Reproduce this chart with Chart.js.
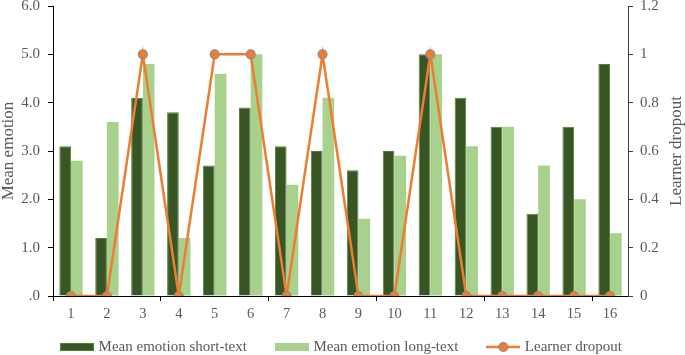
<!DOCTYPE html>
<html>
<head>
<meta charset="utf-8">
<script src="https://cdn.jsdelivr.net/npm/chart.js@4/dist/chart.umd.min.js"></script>
<style>
  html, body { margin: 0; padding: 0; background: #fff; }
  #wrap { width: 685px; height: 355px; }
</style>
</head>
<body>
<div id="wrap"><canvas id="chart"></canvas></div>
<script>
// learner groups 1..16
const categories = ['1','2','3','4','5','6','7','8','9','10','11','12','13','14','15','16'];
const shortText = [3.1, 1.2, 4.1, 3.8, 2.7, 3.9, 3.1, 3.0, 2.6, 3.0, 5.0, 4.1, 3.5, 1.7, 3.5, 4.8];
const longText  = [2.8, 3.6, 4.8, 1.2, 4.6, 5.0, 2.3, 4.1, 1.6, 2.9, 5.0, 3.1, 3.5, 2.7, 2.0, 1.3];
const dropout   = [0, 0, 1, 0, 1, 1, 0, 1, 0, 0, 1, 0, 0, 0, 0, 0];

const SERIF = "'Liberation Serif', 'Times New Roman', serif";
const GREY = '#595959';
const DARK = '#375623', DARK_EDGE = '#548235', LIGHT = '#a9d18e';
const ORANGE = '#ed7d31', DOT_EDGE = '#8c8c8c';

// legend swatches (Excel style: wide rectangles and a line with a marker)
function swatch(w, h, draw) {
  const c = document.createElement('canvas');
  c.width = w; c.height = h;
  draw(c.getContext('2d'));
  return c;
}
const swatches = [
  swatch(34, 8, g => { g.fillStyle = DARK; g.fillRect(0, 0, 34, 8); g.strokeStyle = DARK_EDGE; g.strokeRect(0.5, 0.5, 33, 7); }),
  swatch(34, 8, g => { g.fillStyle = LIGHT; g.fillRect(0, 0, 34, 8); }),
  swatch(34, 12, g => {
    g.strokeStyle = ORANGE; g.lineWidth = 2.5;
    g.beginPath(); g.moveTo(0, 6); g.lineTo(34, 6); g.stroke();
    g.beginPath(); g.arc(17, 6, 4.5, 0, Math.PI * 2);
    g.fillStyle = ORANGE; g.fill(); g.lineWidth = 1.2; g.strokeStyle = DOT_EDGE; g.stroke();
  })
];

// right axis title reads bottom-to-top, same as the left one
const rightTitle = {
  id: 'rightTitle',
  afterDraw(chart) {
    const a = chart.chartArea, s = chart.scales.y1, ctx = chart.ctx;
    ctx.save();
    ctx.translate(s.right - 8, (a.top + a.bottom) / 2);
    ctx.rotate(-Math.PI / 2);
    ctx.font = '17px ' + SERIF;
    ctx.fillStyle = GREY;
    ctx.textAlign = 'center';
    ctx.textBaseline = 'middle';
    ctx.fillText('Learner dropout', 0, 0);
    ctx.restore();
  }
};

// legend padding is wide (item spacing), so pull the row up closer to the axis labels
// (only the top moves: the legend clips its drawing to its own box)
const legendLift = {
  id: 'legendLift',
  afterLayout(chart) {
    chart.legend.top -= 15.5;
  }
};

new Chart(document.getElementById('chart'), {
  data: {
    labels: categories,
    datasets: [
      {type: 'bar', label: 'Mean emotion short-text', data: shortText, yAxisID: 'y',
       backgroundColor: DARK, borderColor: DARK_EDGE, borderWidth: 1,
       barPercentage: 1, categoryPercentage: 0.65, order: 1},
      {type: 'bar', label: 'Mean emotion long-text', data: longText, yAxisID: 'y',
       backgroundColor: LIGHT, borderWidth: 0,
       barPercentage: 1, categoryPercentage: 0.65, order: 1},
      {type: 'line', label: 'Learner dropout', data: dropout, yAxisID: 'y1',
       borderColor: ORANGE, borderWidth: 2.5, tension: 0,
       pointRadius: 4.5, pointBackgroundColor: ORANGE, pointBorderColor: DOT_EDGE, pointBorderWidth: 1.2,
       order: -1}
    ]
  },
  options: {
    responsive: true,
    maintainAspectRatio: false,
    animation: false,
    layout: {padding: {top: 6, left: 0, right: 0, bottom: 0}},
    scales: {
      x: {
        offset: true,
        grid: {
          offset: true, drawOnChartArea: false, drawTicks: true, tickLength: 5,
          color: c => (c.index % 3 === 0 ? '#000' : 'rgba(0,0,0,0)')
        },
        border: {display: true, color: '#000', width: 1},
        ticks: {font: {family: SERIF, size: 14.5}, color: GREY, padding: 4, maxRotation: 0},
        afterFit: s => { s.height = 28; s.paddingLeft = 0; s.paddingRight = 0; }
      },
      y: {
        position: 'left',
        min: 0, max: 6,
        grid: {drawOnChartArea: false, drawTicks: true, tickLength: 5, color: '#000'},
        border: {display: true, color: '#000', width: 1},
        ticks: {stepSize: 1, font: {family: SERIF, size: 15}, color: GREY, padding: 8,
                callback: v => (v === 0 ? '.0' : v.toFixed(1))},
        title: {display: true, text: 'Mean emotion', color: GREY,
                font: {family: SERIF, size: 17, lineHeight: 1}, padding: {top: 0, bottom: 0}},
        afterFit: s => { s.width = 53; s.paddingTop = 0; s.paddingBottom = 0; }
      },
      y1: {
        position: 'right',
        min: 0, max: 1.2,
        grid: {drawOnChartArea: false, drawTicks: true, tickLength: 5, color: '#404040'},
        border: {display: true, color: '#404040', width: 1},
        ticks: {stepSize: 0.2, font: {family: SERIF, size: 15}, color: GREY, padding: 7,
                callback: v => String(parseFloat(v.toFixed(1)))},
        afterFit: s => { s.width = 57; s.paddingTop = 0; s.paddingBottom = 0; }
      }
    },
    plugins: {
      legend: {
        position: 'bottom',
        maxHeight: 31,
        labels: {
          usePointStyle: true,
          pointStyleWidth: 28,
          padding: 31,
          color: GREY,
          font: {family: SERIF, size: 15},
          generateLabels: chart => {
            const items = Chart.defaults.plugins.legend.labels.generateLabels(chart);
            items.sort((a, b) => a.datasetIndex - b.datasetIndex);
            items.forEach(it => { it.pointStyle = swatches[it.datasetIndex]; });
            return items;
          }
        }
      },
      tooltip: {enabled: false}
    }
  },
  plugins: [rightTitle, legendLift]
});
</script>
</body>
</html>
